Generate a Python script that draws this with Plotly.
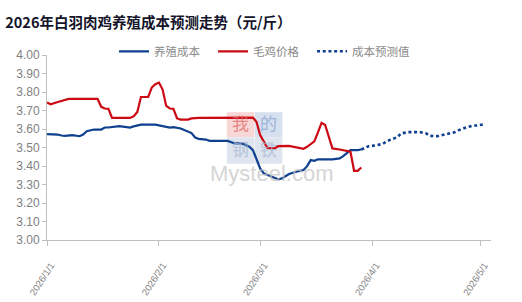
import plotly.graph_objects as go
import pandas as pd

title_text = "2026年白羽肉鸡养殖成本预测走势（元/斤）"
series_names = ["养殖成本", "毛鸡价格", "成本预测值"]

cost_dates = ["2026-01-01","2026-01-04","2026-01-05","2026-01-06","2026-01-08","2026-01-10","2026-01-11",
              "2026-01-12","2026-01-14","2026-01-16","2026-01-17","2026-01-18","2026-01-21","2026-01-24",
              "2026-01-25","2026-01-27","2026-01-31","2026-02-01","2026-02-03","2026-02-04","2026-02-05",
              "2026-02-07","2026-02-08","2026-02-10","2026-02-11","2026-02-12","2026-02-14","2026-02-15",
              "2026-02-20","2026-02-22","2026-02-24","2026-02-26","2026-02-27","2026-02-28","2026-03-01",
              "2026-03-02","2026-03-04","2026-03-06","2026-03-07","2026-03-09","2026-03-11","2026-03-13",
              "2026-03-14","2026-03-15","2026-03-16","2026-03-17","2026-03-21","2026-03-23","2026-03-24",
              "2026-03-25","2026-03-26","2026-03-28","2026-03-29"]
cost_values = [3.572,3.570,3.565,3.563,3.567,3.561,3.570,
               3.588,3.597,3.597,3.608,3.608,3.615,3.608,
               3.614,3.624,3.624,3.621,3.611,3.608,3.610,
               3.603,3.594,3.578,3.554,3.547,3.543,3.536,
               3.536,3.522,3.522,3.504,3.486,3.441,3.387,
               3.360,3.342,3.328,3.333,3.357,3.369,3.378,
               3.399,3.432,3.428,3.436,3.436,3.441,3.453,
               3.471,3.486,3.486,3.489]

price_dates = ["2026-01-01","2026-01-02","2026-01-04","2026-01-07","2026-01-15","2026-01-16","2026-01-17",
               "2026-01-18","2026-01-19","2026-01-24","2026-01-25","2026-01-26","2026-01-27","2026-01-29",
               "2026-01-30","2026-01-31","2026-02-01","2026-02-02","2026-02-03","2026-02-04","2026-02-05",
               "2026-02-06","2026-02-07","2026-02-09","2026-02-10","2026-02-12","2026-02-27","2026-02-28",
               "2026-03-01","2026-03-03","2026-03-05","2026-03-06","2026-03-09","2026-03-13","2026-03-14",
               "2026-03-16","2026-03-17","2026-03-18","2026-03-19","2026-03-20","2026-03-21","2026-03-23",
               "2026-03-25","2026-03-26","2026-03-27","2026-03-28","2026-03-29"]
price_values = [3.743,3.734,3.746,3.763,3.763,3.720,3.711,
                3.709,3.660,3.660,3.669,3.692,3.773,3.773,
                3.824,3.842,3.851,3.813,3.725,3.711,3.709,
                3.657,3.651,3.651,3.657,3.660,3.662,3.638,
                3.567,3.498,3.495,3.507,3.509,3.493,3.504,
                3.533,3.582,3.633,3.622,3.560,3.495,3.489,
                3.482,3.477,3.374,3.374,3.392]

forecast_dates = ["2026-03-29","2026-03-31","2026-04-02","2026-04-04","2026-04-05","2026-04-07","2026-04-08",
                  "2026-04-09","2026-04-11","2026-04-13","2026-04-14","2026-04-16","2026-04-17","2026-04-19",
                  "2026-04-21","2026-04-22","2026-04-24","2026-04-25","2026-04-27","2026-04-29","2026-04-30",
                  "2026-05-02"]
forecast_values = [3.489,3.507,3.511,3.520,3.534,3.549,3.556,
                   3.576,3.583,3.583,3.584,3.576,3.563,3.561,
                   3.572,3.574,3.583,3.594,3.608,3.619,3.619,
                   3.626]

month_ticks = ["2026-01-01", "2026-02-01", "2026-03-01", "2026-04-01", "2026-05-01"]
month_labels = ["2026/1/1", "2026/2/1", "2026/3/1", "2026/4/1", "2026/5/1"]

BLUE = "#0f3f8f"
RED = "#cc0a14"
GRAY = "#7f7f7f"
AXIS = "#bfbfbf"

fig = go.Figure()
fig.add_trace(go.Scatter(x=cost_dates, y=cost_values, name=series_names[0], mode="lines",
                         line=dict(color=BLUE, width=2.2)))
fig.add_trace(go.Scatter(x=price_dates, y=price_values, name=series_names[1], mode="lines",
                         line=dict(color=RED, width=2.2)))
fig.add_trace(go.Scatter(x=forecast_dates, y=forecast_values, name=series_names[2], mode="lines",
                         line=dict(color=BLUE, width=2.6, dash="3px,2.7px")))

x_end = pd.Timestamp("2026-01-01") + pd.Timedelta(days=122.9)

# faint watermark (as in the reference)
wm_boxes = [
    (0.405, 0.467, 0.556, 0.691, "#f6caca", "我", "#e46b6b"),
    (0.468, 0.530, 0.556, 0.691, "#c9d6ea", "的", "#8aa5d3"),
    (0.405, 0.467, 0.412, 0.555, "#d3dcea", "钢", "#a9b8d2"),
    (0.468, 0.530, 0.412, 0.555, "#d3dcea", "铁", "#a9b8d2"),
]
shapes = []
annotations = []
for x0, x1, y0, y1, bg, ch, fc in wm_boxes:
    shapes.append(dict(type="rect", xref="paper", yref="paper", x0=x0, x1=x1, y0=y0, y1=y1,
                       fillcolor=bg, line=dict(width=0), layer="below", opacity=0.75))
    annotations.append(dict(xref="paper", yref="paper", x=(x0 + x1) / 2, y=(y0 + y1) / 2 + 0.01, text=ch,
                            showarrow=False, borderpad=0,
                            font=dict(family="Noto Sans CJK SC", size=17, color=fc), opacity=0.75))
annotations.append(dict(xref="paper", yref="paper", x=0.505, y=0.36, text="Mysteel.com", showarrow=False,
                        borderpad=0, font=dict(family="Liberation Sans", size=22, color="#c4c4c4"), opacity=0.7))

fig.update_layout(
    width=522, height=302,
    margin=dict(l=47, r=31, t=55, b=62),
    paper_bgcolor="white", plot_bgcolor="white",
    title=dict(text="<b>" + title_text + "</b>", x=0.01, xanchor="left", y=0.925, yanchor="middle",
               font=dict(family="Noto Sans CJK SC", size=14.5, color="#14142b")),
    showlegend=True,
    legend=dict(orientation="h", x=0.151, xanchor="left", y=1.02, yanchor="middle",
                font=dict(family="Noto Sans CJK SC", size=11.5, color="#8a8a8a"),
                entrywidth=54, bgcolor="rgba(0,0,0,0)"),
    xaxis=dict(type="date", range=["2026-01-01", x_end], tickvals=month_ticks, ticktext=month_labels,
               tickangle=-57, showgrid=False, zeroline=False, showline=True, linecolor=AXIS, linewidth=1,
               ticks="outside", ticklen=5, tickcolor=AXIS, ticklabelstandoff=10, ticklabelshift=4,
               automargin=False,
               tickfont=dict(family="Liberation Sans", size=9.5, color=GRAY)),
    yaxis=dict(range=[3.0, 4.0], dtick=0.1, tick0=3.0, tickformat=".2f", showgrid=False, zeroline=False,
               showline=True, linecolor=AXIS, linewidth=1, ticks="outside", ticklen=4, tickcolor=AXIS,
               automargin=False,
               tickfont=dict(family="Liberation Sans", size=12, color=GRAY)),
    shapes=shapes,
    annotations=annotations,
)

fig.write_html("out.html")
